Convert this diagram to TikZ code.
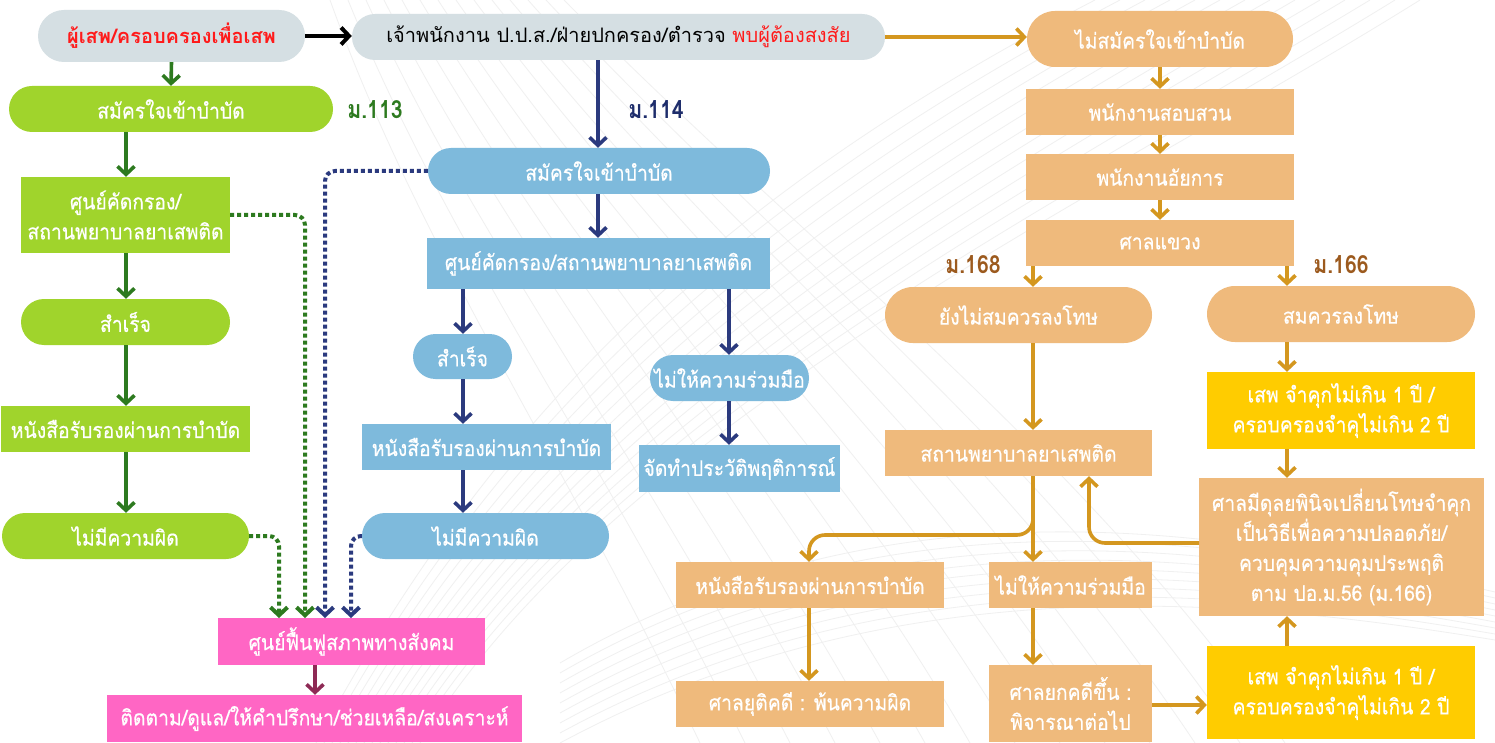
\documentclass[tikz,border=0pt]{standalone}
\usepackage{fontspec}
\setmainfont[Script=Thai]{Loma}
\newfontfamily\thw[Script=Thai, FakeStretch=0.9, FakeBold=0.5]{Loma}
\newfontfamily\thl[Script=Thai, FakeStretch=0.85]{Loma}
\usetikzlibrary{arrows.meta}
\definecolor{cgray}{HTML}{D5DFE3}
\definecolor{cgreen}{HTML}{A0D42C}
\definecolor{cgreenA}{HTML}{2D7A1F}
\definecolor{cblue}{HTML}{7EBADC}
\definecolor{cnavy}{HTML}{2B3A7E}
\definecolor{cnavyT}{HTML}{1E2D6B}
\definecolor{corange}{HTML}{EFBA7C}
\definecolor{cgold}{HTML}{D4971F}
\definecolor{cbrown}{HTML}{9C5A1E}
\definecolor{cyellow}{HTML}{FFCC00}
\definecolor{cpink}{HTML}{FF66C4}
\definecolor{cmaroon}{HTML}{8E2A55}
\definecolor{cred}{HTML}{FF1A1A}
\newcommand\thsize{\fontsize{20}{30}\selectfont}
\newcommand\thbox{\thw\fontsize{21.5}{30}\selectfont}
\begin{document}
\begin{tikzpicture}[x=1pt,y=-1pt,
  box/.style={rectangle, inner sep=0pt, text=white, align=center, font=\thbox},
  pill/.style={box, rounded corners=#1},
  pill/.default=23pt,
  sz/.style 2 args={minimum width=#1pt, minimum height=#2pt},
  tip/.style={-{Straight Barb[length=8pt,width=17pt]}},
  garr/.style={draw=cgreenA, line width=3.6pt, tip},
  narr/.style={draw=cnavy, line width=3.6pt, tip},
  oarr/.style={draw=cgold, line width=3.6pt, tip},
  karr/.style={draw=black, line width=4pt, tip},
  parr/.style={draw=cmaroon, line width=3.6pt, tip},
  dots/.style={line width=4pt, dash pattern=on 4pt off 3pt, rounded corners=10pt, tip},
  lab/.style={font=\thl\fontsize{25}{28}\selectfont\bfseries, inner sep=0pt},
  bgl/.style={draw=black!6, line width=0.8pt}
]
\useasboundingbox (0,0) rectangle (1495,743);
\fill[white] (0,0) rectangle (1495,743);

% ---------- faint background curves
\foreach \i in {0,...,13} {
  \draw[bgl] (330+18*\i,0) .. controls (420+30*\i,250) and (560+40*\i,450) .. (700+45*\i,743);
  \draw[bgl] (1420-25*\i,0) .. controls (1100-30*\i,200) and (620-10*\i,420) .. (420-8*\i,743);
}
\foreach \i in {0,...,8} {
  \draw[bgl] (560,743-10*\i) .. controls (900,560-12*\i) and (1250,600-8*\i) .. (1495,640-6*\i);
}

% ---------- top row
\node[pill=26pt, fill=cgray, sz={267}{52}, text=cred, font=\thsize\bfseries] (A) at (171.5,36) {ผู้เสพ/ครอบครองเพื่อเสพ};
\node[pill, fill=cgray, sz={533}{46}, text=black, font=\thsize] (B) at (618.5,37) {เจ้าพนักงาน ป.ป.ส./ฝ่ายปกครอง/ตำรวจ \textcolor{cred}{พบผู้ต้องสงสัย}};
\node[pill=28pt, fill=corange, sz={266}{56}] (C) at (1160,39) {ไม่สมัครใจเข้าบำบัด};

% ---------- green column
\node[pill, fill=cgreen, sz={324}{46}] (G1) at (171,109) {สมัครใจเข้าบำบัด};
\node[box, fill=cgreen, sz={209}{76}] (G2) at (125.5,215) {ศูนย์คัดกรอง/\\สถานพยาบาลยาเสพติด};
\node[pill, fill=cgreen, sz={209}{46}] (G3) at (125.5,322) {สำเร็จ};
\node[box, fill=cgreen, sz={249}{46}] (G4) at (125.5,429) {หนังสือรับรองผ่านการบำบัด};
\node[pill, fill=cgreen, sz={247}{46}] (G5) at (125.5,536) {ไม่มีความผิด};
\node[lab, text=cgreenA] (M113) at (375,110) {ม.113};

% ---------- blue column
\node[pill, fill=cblue, sz={342}{46}] (L1) at (599,171) {สมัครใจเข้าบำบัด};
\node[box, fill=cblue, sz={343}{51}] (L2) at (598.5,263.5) {ศูนย์คัดกรอง/สถานพยาบาลยาเสพติด};
\node[pill=22.5pt, fill=cblue, sz={99}{45}] (L3) at (462.5,356.5) {สำเร็จ};
\node[box, fill=cblue, sz={249}{46}] (L4) at (486.5,447) {หนังสือรับรองผ่านการบำบัด};
\node[pill, fill=cblue, sz={247}{46}] (L5) at (485.5,536) {ไม่มีความผิด};
\node[pill, fill=cblue, sz={159}{46}] (L6) at (729.5,378) {ไม่ให้ความร่วมมือ};
\node[box, fill=cblue, sz={201}{47}] (L7) at (739.5,468.5) {จัดทำประวัติพฤติการณ์};
\node[lab, text=cnavyT] (M114) at (656,110) {ม.114};

% ---------- pink
\node[box, fill=cpink, sz={267}{47}] (P1) at (351.5,641.5) {ศูนย์ฟื้นฟูสภาพทางสังคม};
\node[box, fill=cpink, sz={415}{47}] (P2) at (314.5,718.5) {ติดตาม/ดูแล/ให้คำปรึกษา/ช่วยเหลือ/สงเคราะห์};

% ---------- orange column
\node[box, fill=corange, sz={268}{46}] (O1) at (1160,112) {พนักงานสอบสวน};
\node[box, fill=corange, sz={268}{46}] (O2) at (1160,177) {พนักงานอัยการ};
\node[box, fill=corange, sz={268}{46}] (O3) at (1160,243) {ศาลแขวง};
\node[pill=28pt, fill=corange, sz={267}{56}] (O4) at (1018.5,315) {ยังไม่สมควรลงโทษ};
\node[pill=28pt, fill=corange, sz={268}{56}] (O5) at (1341,314) {สมควรลงโทษ};
\node[box, fill=cyellow, sz={268}{77}] (Y1) at (1341,410.5) {เสพ จำคุกไม่เกิน 1 ปี /\\ครอบครองจำคุไม่เกิน 2 ปี};
\node[box, fill=corange, sz={285}{138}] (O6) at (1341.5,547) {ศาลมีดุลยพินิจเปลี่ยนโทษจำคุก\\เป็นวิธีเพื่อความปลอดภัย/\\ควบคุมความคุมประพฤติ\\ตาม ปอ.ม.56 (ม.166)};
\node[box, fill=cyellow, sz={268}{93}] (Y2) at (1341,692.5) {เสพ จำคุกไม่เกิน 1 ปี /\\ครอบครองจำคุไม่เกิน 2 ปี};
\node[box, fill=corange, sz={267}{46}] (O7) at (1018.5,453) {สถานพยาบาลยาเสพติด};
\node[box, fill=corange, sz={268}{46}] (O8) at (810,585) {หนังสือรับรองผ่านการบำบัด};
\node[box, fill=corange, sz={163}{46}] (O9) at (1070.5,585) {ไม่ให้ความร่วมมือ};
\node[box, fill=corange, sz={268}{46}] (O10) at (810,704) {ศาลยุติคดี : พ้นความผิด};
\node[box, fill=corange, sz={163}{77}] (O11) at (1070.5,703.5) {ศาลยกคดีขึ้น :\\พิจารณาต่อไป};
\node[lab, text=cbrown] (M168) at (973,265) {ม.168};
\node[lab, text=cbrown] (M166) at (1341,265) {ม.166};

% ---------- helper coordinates
\coordinate (xg) at (126,0);
\coordinate (xb) at (598,0);
\coordinate (xl) at (463,0);
\coordinate (xr) at (729,0);
\coordinate (x168) at (1033,0);
\coordinate (x166) at (1287,0);
\coordinate (x8) at (809,0);
\coordinate (x6) at (1089,0);

% ---------- connectors: top
\draw[karr] (A.east) -- (B.west |- A.east);
\draw[oarr] (B.east) -- (C.west |- B.east);
\draw[garr] (A.south) -- (G1.north);
\draw[narr] (B.south -| xb) -- (L1.north -| xb);

% green
\draw[garr] (G1.south -| xg) -- (G2.north -| xg);
\draw[garr] (G2.south -| xg) -- (G3.north -| xg);
\draw[garr] (G3.south -| xg) -- (G4.north -| xg);
\draw[garr] (G4.south -| xg) -- (G5.north -| xg);

% blue
\draw[narr] (L1.south -| xb) -- (L2.north -| xb);
\draw[narr] (L2.south -| xl) -- (L3.north -| xl);
\draw[narr] (L3.south -| xl) -- (L4.north -| xl);
\draw[narr] (L4.south -| xl) -- (L5.north -| xl);
\draw[narr] (L2.south -| xr) -- (L6.north -| xr);
\draw[narr] (L6.south -| xr) -- (L7.north -| xr);

% dotted into pink
\coordinate (d1) at (279,618);
\coordinate (d2) at (305,618);
\coordinate (d3) at (325,618);
\coordinate (d4) at (351,618);
\draw[dots, draw=cgreenA] (G5.east) -| (d1);
\draw[dots, draw=cgreenA] (G2.east) -| (d2);
\draw[dots, draw=cnavy] (L1.west) -| (d3);
\draw[dots, draw=cnavy] (L5.west) -| (d4);
\coordinate (xp) at (315,0);
\draw[parr] (P1.south -| xp) -- (P2.north -| xp);

% orange
\draw[oarr] (C) -- (O1);
\draw[oarr] (O1) -- (O2);
\draw[oarr] (O2) -- (O3);
\draw[oarr] (O3.south -| x168) -- (O4.north -| x168);
\draw[oarr] (O3.south -| x166) -- (O5.north -| x166);
\draw[oarr] (O4.south -| x168) -- (O7.north -| x168);
\draw[oarr] (O5.south -| x166) -- (Y1.north -| x166);
\draw[oarr] (Y1.south -| x166) -- (O6.north -| x166);
\draw[oarr] (Y2.north -| x166) -- (O6.south -| x166);
\coordinate (b6) at (1199,543);
\draw[oarr, rounded corners=16pt] (b6) -| (O7.south -| x6);
\draw[oarr] (O7.south -| x168) -- (O9.north -| x168);
\coordinate (br) at (1033,535);
\draw[oarr, rounded corners=16pt] (O7.south -| x168) -- (br) -| (O8.north -| x8);
\draw[oarr] (O8.south -| x8) -- (O10.north -| x8);
\draw[oarr] (O9.south -| x168) -- (O11.north -| x168);
\coordinate (y705) at (0,705);
\draw[oarr] (O11.east |- y705) -- (Y2.west |- y705);
\end{tikzpicture}
\end{document}
